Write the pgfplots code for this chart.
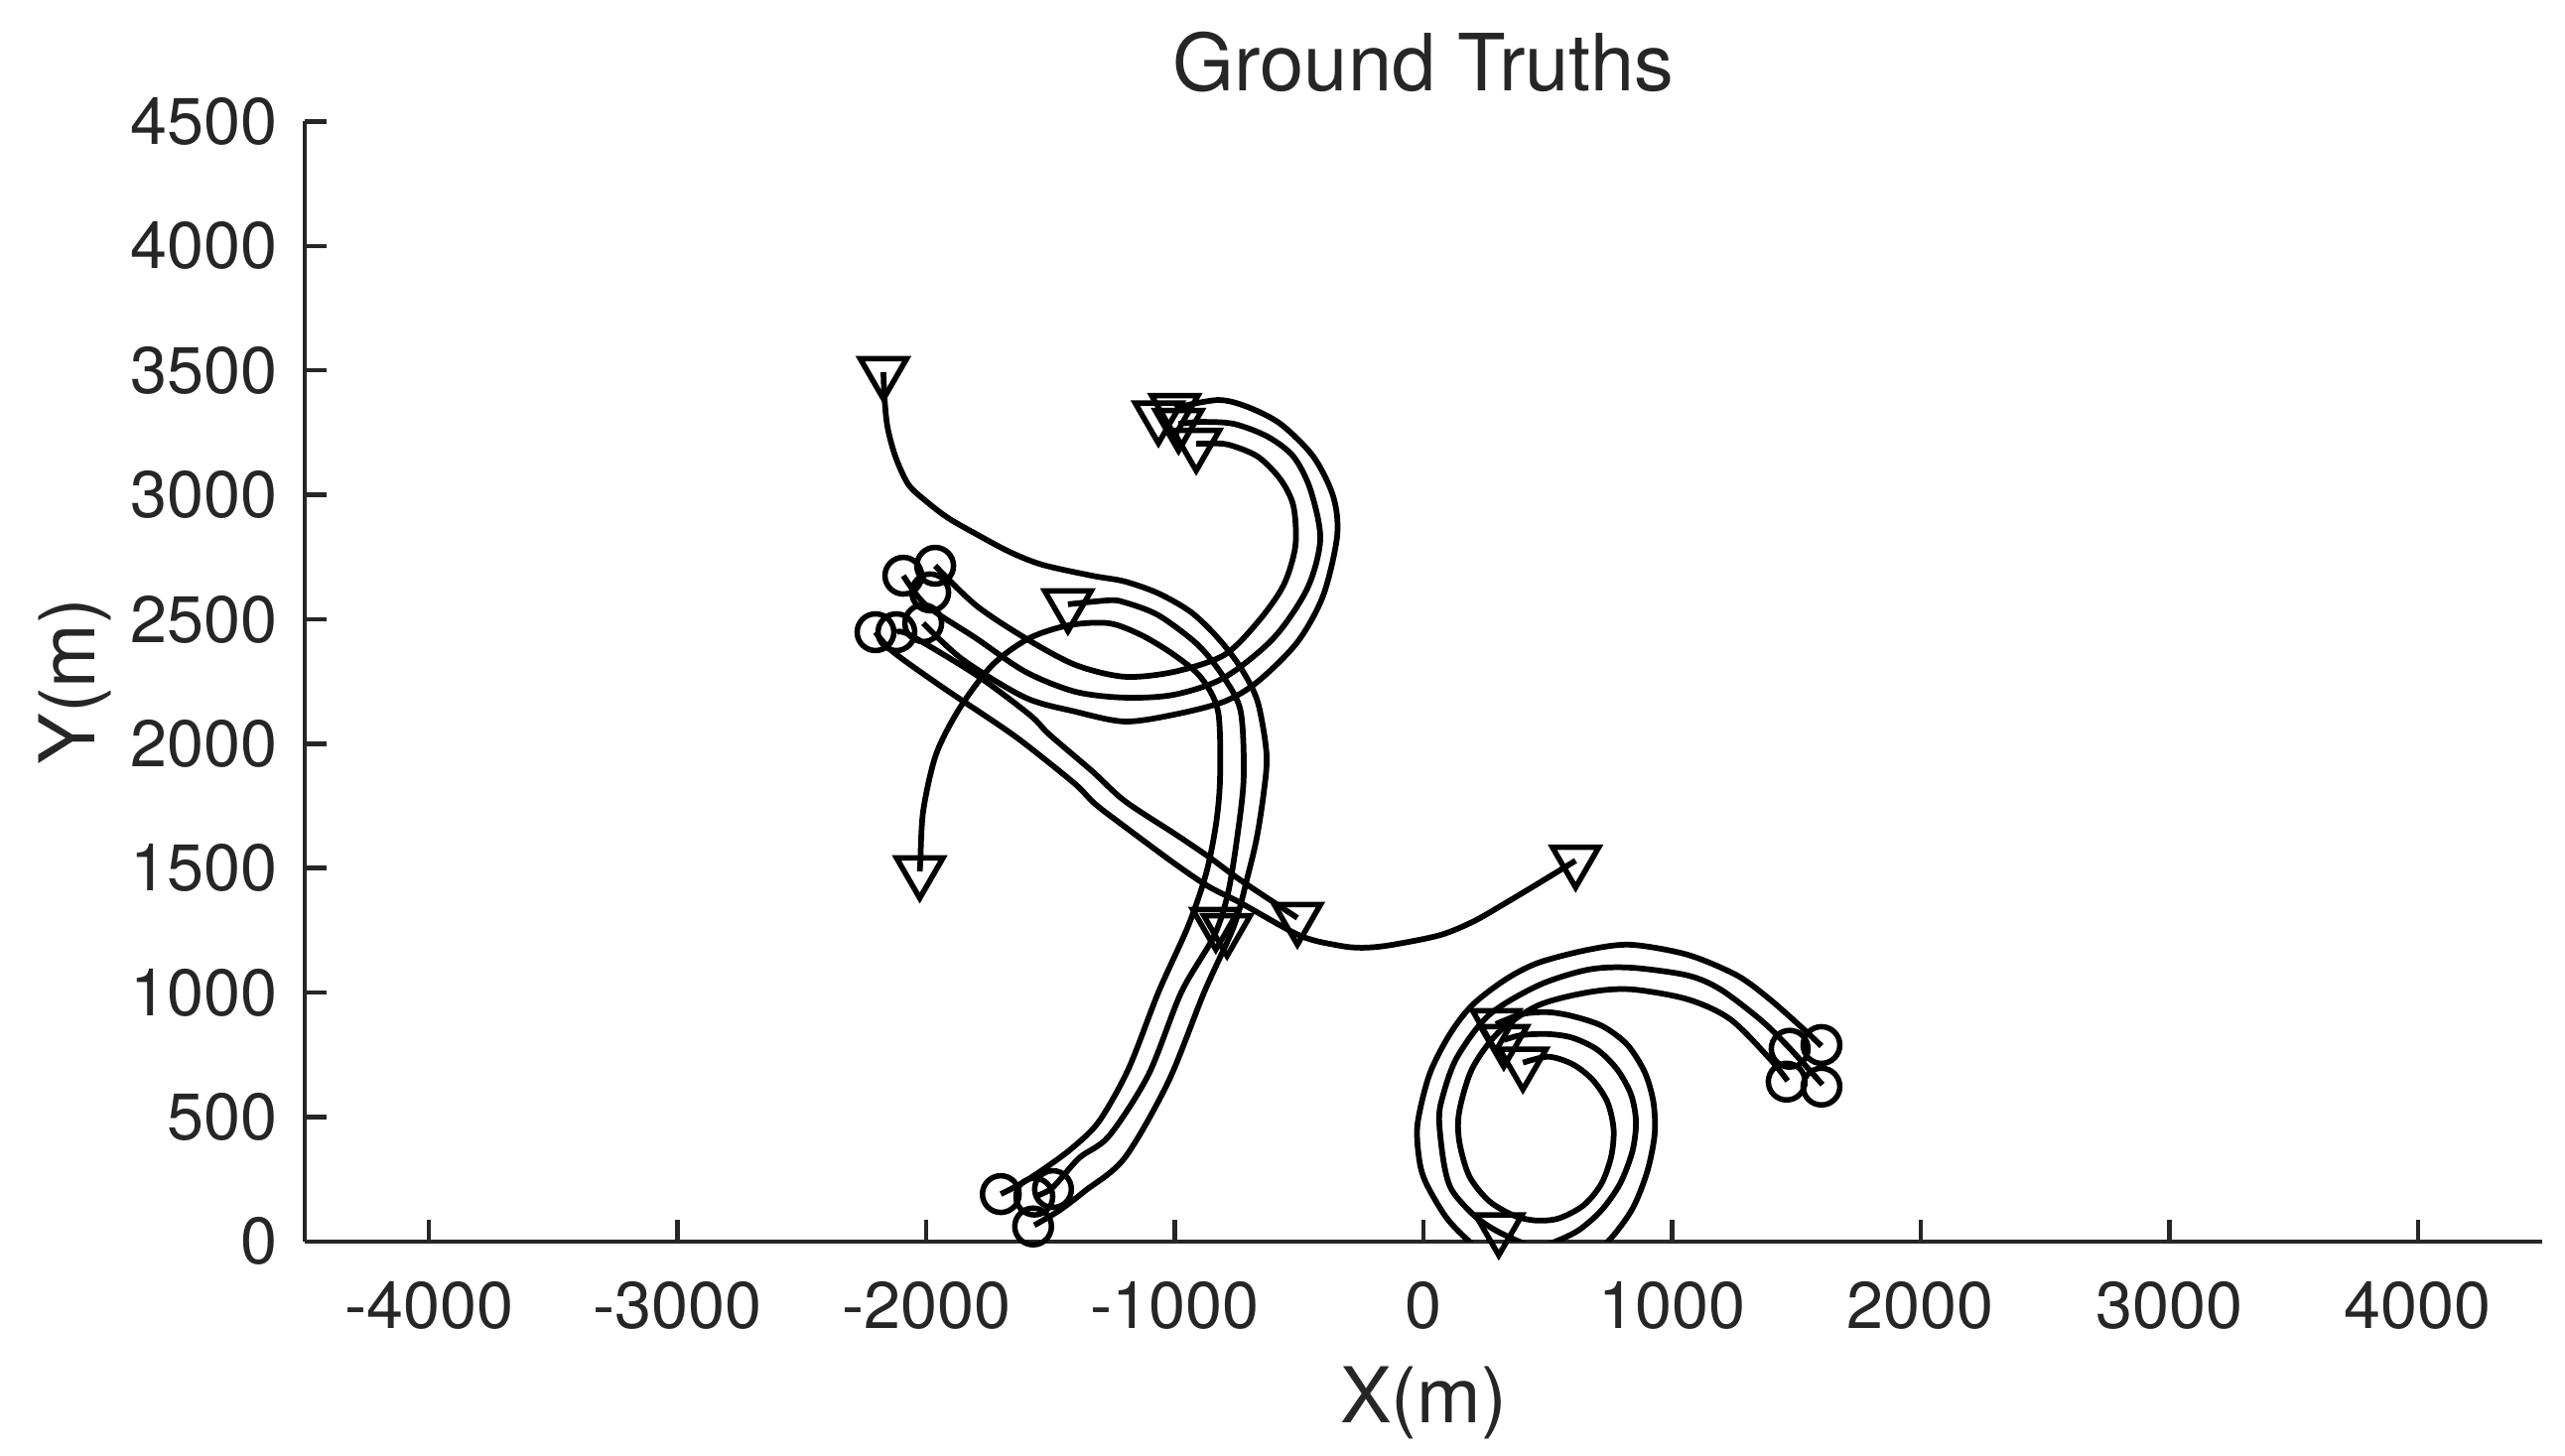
\documentclass[border=0pt]{standalone}
\usepackage{fontspec}
\setmainfont{TeX Gyre Heros}
\usepackage{pgfplots}
\pgfplotsset{compat=1.18}
\usetikzlibrary{calc}
\definecolor{axgray}{rgb}{0.15,0.15,0.15}
\pgfplotsset{trk/.style={black, line width=1.15pt, smooth, no marks}}
\begin{document}
\begin{tikzpicture}
\begin{axis}[
 name=ax,
 scale only axis,
 width=450.9pt, height=225.7pt,
 xmin=-4500, xmax=4500, ymin=0, ymax=4500,
 axis lines*=left,
 axis line style={axgray, line width=0.9pt},
 tick style={axgray, line width=0.9pt},
 tick align=inside,
 major tick length=4.4pt,
 xtick={-4000,-3000,...,4000},
 ytick={0,500,...,4500},
 /pgf/number format/assume math mode=true,
 /pgf/number format/1000 sep={},
 ticklabel style={font=\fontsize{13.3}{16}\selectfont, text=axgray},
 xticklabel style={yshift=-4.5pt},
 yticklabel style={xshift=-2pt},
 every axis title shift=0pt,
 title={Ground Truths},
 title style={font=\fontsize{15.9}{19}\selectfont, text=axgray, at={(axis description cs:0.5,1.0275)}, anchor=base},
 xlabel={X(m)}, ylabel={Y(m)},
 xlabel style={font=\fontsize{15.5}{18}\selectfont, text=axgray, at={(axis description cs:0.5,-0.1617)}, anchor=base},
 ylabel style={font=\fontsize{15.5}{18}\selectfont, text=axgray, at={(axis description cs:-0.0936,0.5)}, anchor=base},
 clip mode=individual,
]
% curve 1
\addplot[trk] coordinates {(-1565,65) (-1465,124) (-1361,203) (-1202,335) (-1026,642) (-882,1001) (-762,1268) (-707,1467) (-671,1619) (-643,1798) (-631,1958) (-667,2169) (-735,2305) (-826,2424) (-934,2528) (-1066,2604) (-1202,2652) (-1333,2675) (-1533,2719) (-1665,2771) (-1800,2843) (-1912,2907) (-2000,2974) (-2072,3042) (-2124,3154) (-2156,3274) (-2168,3393) (-2172,3493)};
% A
\addplot[trk] coordinates {(-1565,180) (-1493,215) (-1385,335) (-1265,423) (-1106,670) (-974,1001) (-842,1228) (-786,1400) (-747,1639) (-723,1866) (-735,2129) (-802,2265) (-906,2396) (-1066,2516) (-1202,2568) (-1265,2576) (-1430,2560)};
% B
\addplot[trk] coordinates {(-1700,190) (-1613,235) (-1521,295) (-1413,375) (-1305,482) (-1186,694) (-1066,1001) (-946,1268) (-874,1479) (-834,1679) (-818,1866) (-826,2129) (-894,2265) (-1002,2356) (-1134,2436) (-1265,2484) (-1425,2476) (-1585,2424) (-1733,2317) (-1864,2145) (-1960,1958) (-2012,1730) (-2024,1519) (-2026,1487)};
% hook H1
\addplot[trk] coordinates {(-1964,2715) (-1800,2556) (-1601,2424) (-1401,2317) (-1202,2269) (-1002,2289) (-802,2356) (-667,2488) (-563,2636) (-515,2795) (-523,2955) (-575,3062) (-667,3154) (-786,3202) (-866,3206) (-914,3205)};
% hook H2
\addplot[trk] coordinates {(-2092,2675) (-2000,2556) (-1800,2424) (-1601,2289) (-1401,2209) (-1202,2185) (-1002,2197) (-802,2265) (-603,2424) (-467,2624) (-415,2823) (-455,3022) (-523,3154) (-627,3234) (-762,3285) (-894,3293) (-985,3285)};
% hook H3
\addplot[trk] coordinates {(-2012,2484) (-1852,2337) (-1601,2185) (-1401,2129) (-1202,2089) (-1002,2117) (-802,2169) (-667,2249) (-507,2408) (-403,2596) (-347,2835) (-363,2994) (-443,3154) (-575,3285) (-707,3353) (-826,3381) (-1000,3350)};
% L2
\addplot[trk] coordinates {(-2120,2448) (-2064,2436) (-1800,2277) (-1585,2117) (-1505,2037) (-1333,1890) (-1202,1770) (-1002,1639) (-866,1547) (-735,1451) (-507,1300)};
% L1
\addplot[trk] coordinates {(-2204,2448) (-2132,2368) (-1932,2225) (-1693,2065) (-1585,1986) (-1401,1838) (-1321,1758) (-1202,1667) (-1002,1519) (-866,1427) (-735,1360) (-495,1228) (-335,1188) (-244,1180) (-136,1190) (64,1230) (200,1285) (331,1360) (463,1439) (612,1530)};
% spiral S1
\addplot[trk] coordinates {(1601,785) (1529,853) (1393,973) (1261,1069) (1062,1152) (834,1192) (663,1172) (463,1120) (331,1053) (196,949) (104,829) (24,670) (-24,470) (-16,323) (12,231) (92,96) (184,0) (303,-96) (463,-136) (623,-96) (743,0) (840,130) (900,280) (930,430) (925,560) (890,680) (820,790) (720,865) (600,905) (500,921) (395,913) (291,873)};
% spiral S2
\addplot[trk] coordinates {(1605,630) (1461,789) (1353,893) (1194,1013) (1062,1069) (834,1100) (663,1092) (463,1029) (263,909) (132,734) (72,562) (64,470) (84,303) (116,203) (204,104) (291,44) (403,-8) (463,-20) (523,-4) (623,44) (715,124) (790,230) (840,360) (855,480) (835,590) (780,690) (700,770) (600,818) (503,833) (395,829) (323,809)};
% spiral S3
\addplot[trk] coordinates {(1465,645) (1393,734) (1234,893) (1062,973) (834,1013) (663,1001) (463,949) (303,841) (196,694) (144,522) (144,403) (184,263) (263,163) (363,104) (451,84) (543,92) (643,144) (715,230) (755,340) (765,450) (740,560) (680,650) (600,712) (503,742) (400,718)};
% start markers
\addplot[only marks, mark=o, mark size=3.7pt, mark options={black, line width=1.1pt}] coordinates {
(-2092,2675) (-1964,2715) (-1984,2608) (-2204,2448) (-2120,2448) (-2012,2484)
(-1700,190) (-1565,180) (-1490,210) (-1570,60)
(1473,774) (1601,789) (1461,642) (1601,622)};
% end markers
\addplot[only marks, mark=triangle, mark size=5.4pt, mark options={black, line width=1.1pt, rotate=180}] coordinates {
(-2172,3493) (-1430,2560) (-2026,1487) (-507,1300) (612,1530)
(-1066,3315) (-1000,3345) (-985,3285) (-914,3205)
(-835,1280) (-790,1255)
(291,873) (323,809) (400,718) (303,52)};
\end{axis}
\pgfresetboundingbox
\path[use as bounding box] ($(ax.south west)+(-61.4pt,-43.2pt)$) rectangle ($(ax.north east)+(4.6pt,24.5pt)$);
\end{tikzpicture}
\end{document}
